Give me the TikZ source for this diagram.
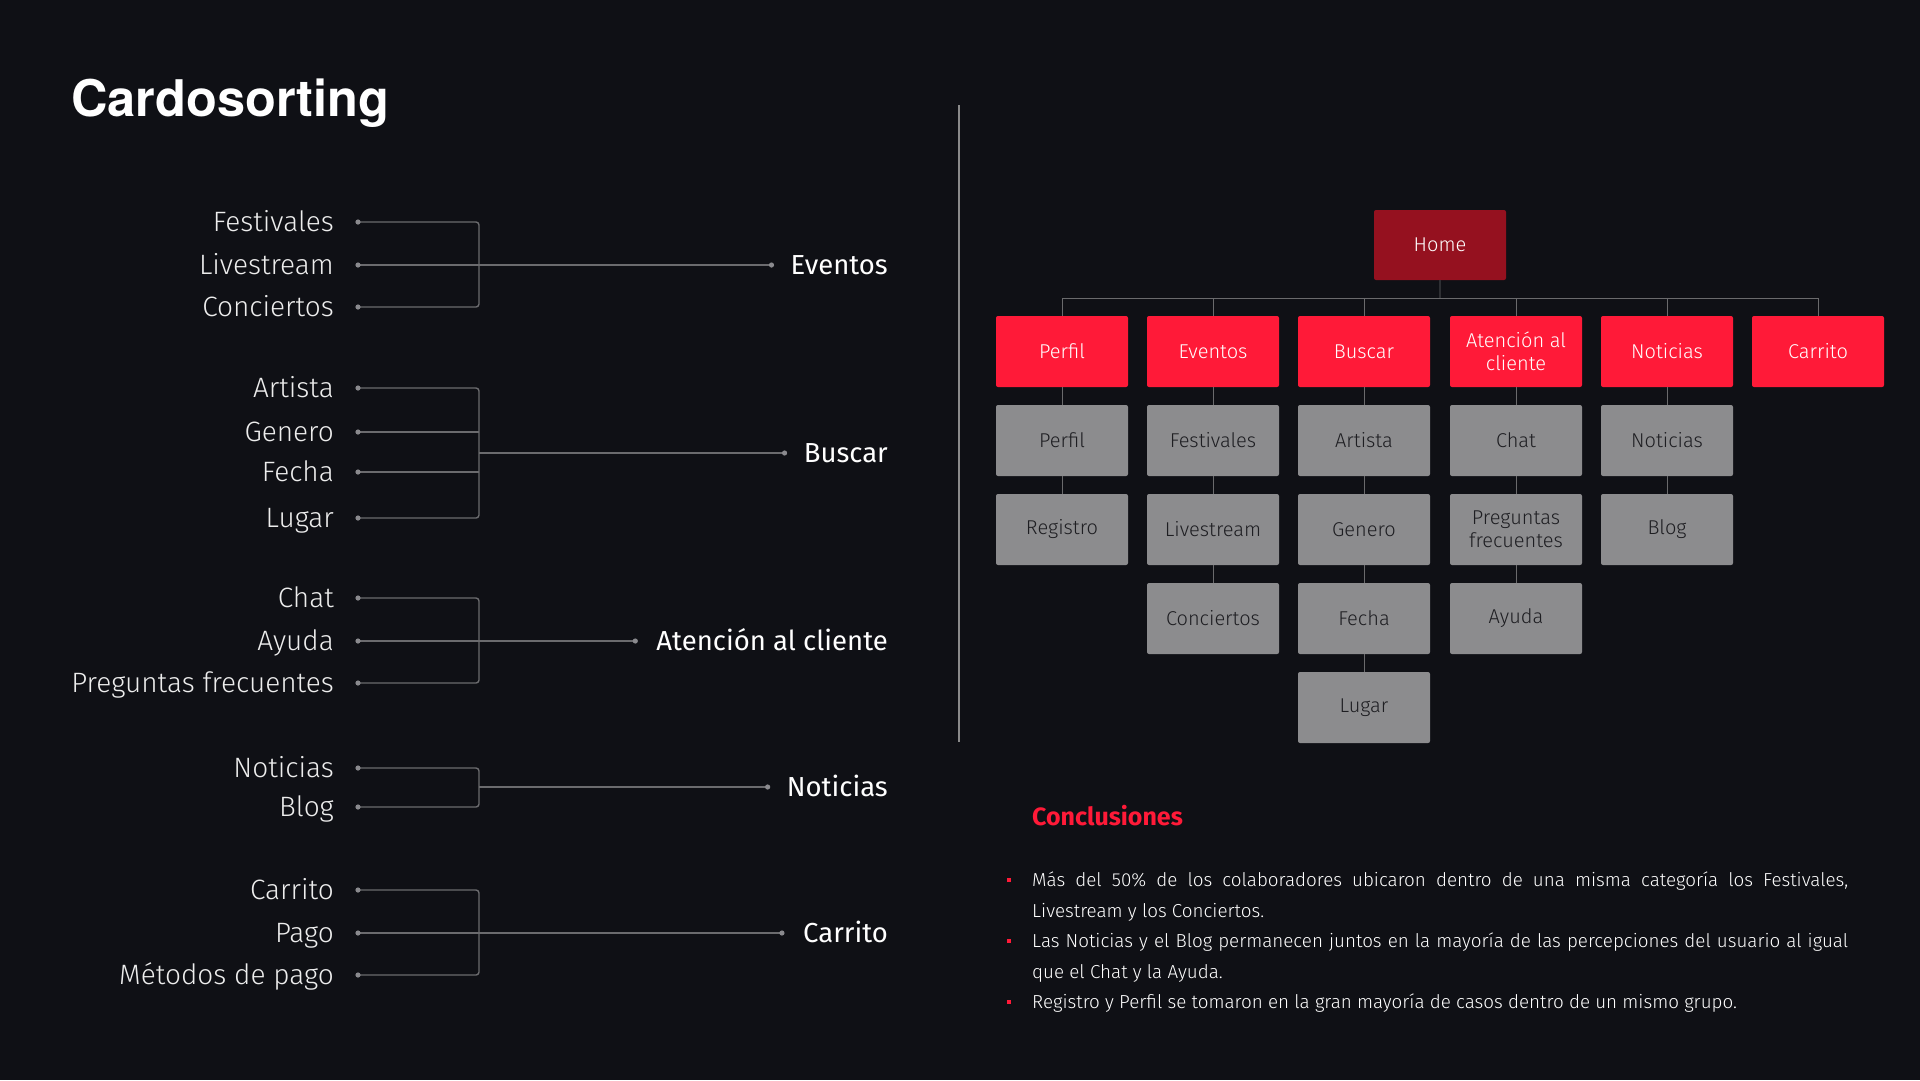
\documentclass[tikz,border=0pt]{standalone}
\usepackage{fontspec}
\usetikzlibrary{calc}
\setmainfont{Fira Sans Light}
\newfontfamily\lightf{Fira Sans Light}
\newfontfamily\regf{Fira Sans}
\newfontfamily\boldf{Fira Sans Bold}
\newfontfamily\titlef{TeX Gyre Heros}
\definecolor{bg}{HTML}{0F1015}
\definecolor{linec}{HTML}{6B6B6E}
\definecolor{dotcol}{HTML}{8A8A8E}
\definecolor{itemc}{HTML}{EDEDED}
\definecolor{redc}{HTML}{FF1A38}
\definecolor{homec}{HTML}{95111F}
\definecolor{grayc}{HTML}{8C8C8E}
\definecolor{grayt}{HTML}{1E1E22}
\definecolor{treec}{HTML}{6A6A6C}
\definecolor{homelc}{HTML}{2E2F33}
\definecolor{divc}{HTML}{8A8A8A}
\newcommand\mybul{\leavevmode\llap{\textcolor{redc}{\rule[5pt]{4pt}{4pt}}\hspace{21pt}}}
\begin{document}
\begin{tikzpicture}[x=1pt,y=-1pt,
  conn/.style={draw=linec, line width=1.4pt},
  itemlbl/.style={anchor=base east, inner sep=0, text=itemc, font=\lightf\fontsize{28}{32}\selectfont},
  grouplbl/.style={anchor=base east, inner sep=0, text=white, font=\regf\fontsize{27.5}{32}\selectfont},
  card/.style={minimum width=132pt, minimum height=71pt, inner sep=0, rounded corners=2pt, align=center, font=\lightf\fontsize{20}{23}\selectfont},
  redbox/.style={card, fill=redc, text=white},
  homebox/.style={card, fill=homec, text=white, minimum height=70pt},
  graybox/.style={card, fill=grayc, text=grayt},
  treeline/.style={draw=treec, line width=1pt},
]
\fill[bg] (0,0) rectangle (1920,1080);
\useasboundingbox (0,0) rectangle (1920,1080);

% title
\node[anchor=base west, inner sep=0, text=white, font=\titlef\bfseries\fontsize{50.5}{60}\selectfont] (title) at (71,116) {Cardosorting};

% divider
\coordinate (dvT) at (959,105);
\coordinate (dvB) at (959,742);
\draw[draw=divc, line width=1.5pt] (dvT) -- (dvB);

% ---------- group 1: Eventos
\coordinate (f1) at (358,222); \coordinate (f2) at (358,265); \coordinate (f3) at (358,307);
\coordinate (b1t) at (479,222); \coordinate (b1b) at (479,307);
\node[itemlbl] (lf1) at (334,231) {Festivales};
\node[itemlbl] (lf2) at (334,274) {Livestream};
\node[itemlbl] (lf3) at (334,316) {Conciertos};
\node[grouplbl] (g1) at (888,274) {Eventos};
\coordinate (e1) at ($(g1.west |- f2)+(-19,0)$);
\draw[conn, rounded corners=3pt] (f1) -- (b1t) -- (b1b) -- (f3);
\draw[conn] (f2) -- (e1);
\foreach \p in {f1,f2,f3,e1} \fill[dotcol] (\p) circle (2.6pt);

% ---------- group 2: Buscar
\coordinate (a1) at (358,388); \coordinate (a2) at (358,432); \coordinate (a3) at (358,472); \coordinate (a4) at (358,518);
\coordinate (b2t) at (479,388); \coordinate (b2b) at (479,518); \coordinate (b2m) at (479,453);
\node[itemlbl] (la1) at (334,397) {Artista};
\node[itemlbl] (la2) at (334,441) {Genero};
\node[itemlbl] (la3) at (334,481) {Fecha};
\node[itemlbl] (la4) at (334,527) {Lugar};
\node[grouplbl] (g2) at (888,462) {Buscar};
\coordinate (e2) at ($(g2.west |- b2m)+(-19,0)$);
\draw[conn, rounded corners=3pt] (a1) -- (b2t) -- (b2b) -- (a4);
\draw[conn] (a2) -- (a2 -| b2t);
\draw[conn] (a3) -- (a3 -| b2t);
\draw[conn] (b2m) -- (e2);
\foreach \p in {a1,a2,a3,a4,e2} \fill[dotcol] (\p) circle (2.6pt);

% ---------- group 3: Atencion
\coordinate (c1) at (358,598); \coordinate (c2) at (358,641); \coordinate (c3) at (358,683);
\coordinate (b3t) at (479,598); \coordinate (b3b) at (479,683);
\node[itemlbl] (lc1) at (334,607) {Chat};
\node[itemlbl] (lc2) at (334,650) {Ayuda};
\node[itemlbl] (lc3) at (334,692) {Preguntas frecuentes};
\node[grouplbl] (g3) at (888,650) {Atención al cliente};
\coordinate (e3) at ($(g3.west |- c2)+(-21,0)$);
\draw[conn, rounded corners=3pt] (c1) -- (b3t) -- (b3b) -- (c3);
\draw[conn] (c2) -- (e3);
\foreach \p in {c1,c2,c3,e3} \fill[dotcol] (\p) circle (2.6pt);

% ---------- group 4: Noticias
\coordinate (n1) at (358,768); \coordinate (n2) at (358,807);
\coordinate (b4t) at (479,768); \coordinate (b4b) at (479,807); \coordinate (b4m) at (479,787);
\node[itemlbl] (ln1) at (334,777) {Noticias};
\node[itemlbl] (ln2) at (334,816) {Blog};
\node[grouplbl] (g4) at (888,796) {Noticias};
\coordinate (e4) at ($(g4.west |- b4m)+(-19,0)$);
\draw[conn, rounded corners=3pt] (n1) -- (b4t) -- (b4b) -- (n2);
\draw[conn] (b4m) -- (e4);
\foreach \p in {n1,n2,e4} \fill[dotcol] (\p) circle (2.6pt);

% ---------- group 5: Carrito
\coordinate (k1) at (358,890); \coordinate (k2) at (358,933); \coordinate (k3) at (358,975);
\coordinate (b5t) at (479,890); \coordinate (b5b) at (479,975);
\node[itemlbl] (lk1) at (334,899) {Carrito};
\node[itemlbl] (lk2) at (334,942) {Pago};
\node[itemlbl] (lk3) at (334,984) {Métodos de pago};
\node[grouplbl] (g5) at (888,942) {Carrito};
\coordinate (e5) at ($(g5.west |- k2)+(-21,0)$);
\draw[conn, rounded corners=3pt] (k1) -- (b5t) -- (b5b) -- (k3);
\draw[conn] (k2) -- (e5);
\foreach \p in {k1,k2,k3,e5} \fill[dotcol] (\p) circle (2.6pt);

% ---------- tree
\node[homebox] (home) at (1440,245) {Home};
\node[redbox] (r1) at (1062,351.5) {Perfil};
\node[redbox] (r2) at (1213,351.5) {Eventos};
\node[redbox] (r3) at (1364,351.5) {Buscar};
\node[redbox] (r4) at (1516,351.5) {Atención al\\cliente};
\node[redbox] (r5) at (1667,351.5) {Noticias};
\node[redbox] (r6) at (1818,351.5) {Carrito};

\node[graybox] (p1a) at (1062,440.5) {Perfil};
\node[graybox] (p1b) at (1062,529.5) {Registro};
\node[graybox] (p2a) at (1213,440.5) {Festivales};
\node[graybox] (p2b) at (1213,529.5) {Livestream};
\node[graybox] (p2c) at (1213,618.5) {Conciertos};
\node[graybox] (p3a) at (1364,440.5) {Artista};
\node[graybox] (p3b) at (1364,529.5) {Genero};
\node[graybox] (p3c) at (1364,618.5) {Fecha};
\node[graybox] (p3d) at (1364,707.5) {Lugar};
\node[graybox] (p4a) at (1516,440.5) {Chat};
\node[graybox] (p4b) at (1516,529.5) {Preguntas\\frecuentes};
\node[graybox] (p4c) at (1516,618.5) {Ayuda};
\node[graybox] (p5a) at (1667,440.5) {Noticias};
\node[graybox] (p5b) at (1667,529.5) {Blog};

\coordinate (bus) at (1440,298);
\draw[draw=homelc, line width=1.2pt] (home.south) -- (bus);
\draw[treeline] (r1.north |- bus) -- (r6.north |- bus);
\foreach \i in {1,...,6} \draw[treeline] (r\i.north |- bus) -- (r\i.north);
\draw[treeline] (r1.south) -- (p1a.north);
\draw[treeline] (p1a.south) -- (p1b.north);
\draw[treeline] (r2.south) -- (p2a.north);
\draw[treeline] (p2a.south) -- (p2b.north);
\draw[treeline] (p2b.south) -- (p2c.north);
\draw[treeline] (r3.south) -- (p3a.north);
\draw[treeline] (p3a.south) -- (p3b.north);
\draw[treeline] (p3b.south) -- (p3c.north);
\draw[treeline] (p3c.south) -- (p3d.north);
\draw[treeline] (r4.south) -- (p4a.north);
\draw[treeline] (p4a.south) -- (p4b.north);
\draw[treeline] (p4b.south) -- (p4c.north);
\draw[treeline] (r5.south) -- (p5a.north);
\draw[treeline] (p5a.south) -- (p5b.north);

% ---------- conclusions
\node[anchor=base west, inner sep=0, text=redc, font=\boldf\fontsize{25}{28}\selectfont] (conc) at (1032,825) {Conclusiones};
\node[anchor=base west, inner sep=0, text width=816pt, align=justify, text=white, font=\lightf\fontsize{18.8}{30.6}\selectfont] (body) at (1032,886.5) {%
\mybul Más del 50\% de los colaboradores ubicaron dentro de una misma categoría los Festivales,\linebreak Livestream y los Conciertos.\par
\mybul Las Noticias y el Blog permanecen juntos en la mayoría de las percepciones del usuario al igual\linebreak que el Chat y la Ayuda.\par
\mybul Registro y Perfil se tomaron en la gran mayoría de casos dentro de un mismo grupo.};
\end{tikzpicture}
\end{document}
